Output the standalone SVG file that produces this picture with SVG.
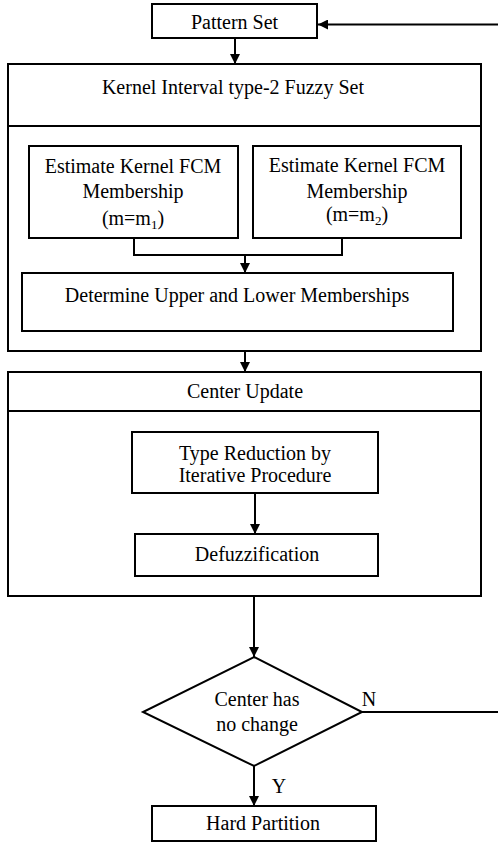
<svg xmlns="http://www.w3.org/2000/svg" width="498" height="844" viewBox="0 0 498 844">
<style>
.box{fill:#fff;stroke:#000;stroke-width:2}
.ln{fill:none;stroke:#000;stroke-width:2}
text{font-family:'Liberation Serif','Times New Roman',Times,'DejaVu Serif',serif;font-size:20px;fill:#000;text-anchor:middle}
.sub{font-size:13px}
</style>
<defs>
<marker id="ah" viewBox="0 0 10 10" refX="10" refY="5" markerWidth="10" markerHeight="10" markerUnits="userSpaceOnUse" orient="auto">
<path d="M0,0 L10,5 L0,10 Z" fill="#000"/>
</marker>
</defs>
<rect width="498" height="844" fill="#fff"/>
<g id="pattern-set">
<rect class="box" x="152" y="4" width="165" height="34"/>
<text x="234.5" y="29" font-family="Liberation Serif, serif">Pattern Set</text>
</g>
<g id="kernel-it2fs">
<rect class="box" x="8" y="64" width="473" height="287"/>
<line class="ln" x1="8" y1="126" x2="481" y2="126"/>
<text x="233" y="94">Kernel Interval type-2 Fuzzy Set</text>
</g>
<g id="estimate-m1">
<rect class="box" x="29" y="146" width="209" height="92"/>
<text x="133" y="173">Estimate Kernel FCM</text>
<text x="133" y="198">Membership</text>
<text x="133" y="225">(m=m<tspan class="sub" dy="4">1</tspan><tspan dy="-4">)</tspan></text>
</g>
<g id="estimate-m2">
<rect class="box" x="253" y="146" width="208" height="92"/>
<text x="357" y="172">Estimate Kernel FCM</text>
<text x="357" y="198">Membership</text>
<text x="357" y="221">(m=m<tspan class="sub" dy="4">2</tspan><tspan dy="-4">)</tspan></text>
</g>
<g id="determine">
<rect class="box" x="22" y="273" width="431" height="58"/>
<text x="237" y="302">Determine Upper and Lower Memberships</text>
</g>
<g id="center-update">
<rect class="box" x="8" y="372" width="473" height="224"/>
<line class="ln" x1="8" y1="411" x2="481" y2="411"/>
<text x="245" y="398">Center Update</text>
</g>
<g id="type-reduction">
<rect class="box" x="132" y="432" width="246" height="61"/>
<text x="255" y="460">Type Reduction by</text>
<text x="255" y="482">Iterative Procedure</text>
</g>
<g id="defuzzification">
<rect class="box" x="135" y="534" width="243" height="42"/>
<text x="257" y="561">Defuzzification</text>
</g>
<g id="decision">
<polygon class="box" points="254,657 362,712 254,766 143,712"/>
<text x="257" y="706">Center has</text>
<text x="257" y="731">no change</text>
</g>
<g id="hard-partition">
<rect class="box" x="152" y="806" width="224" height="35"/>
<text x="263" y="830">Hard Partition</text>
</g>
<g id="connectors">
<line class="ln" x1="498" y1="24.5" x2="318" y2="24.5" marker-end="url(#ah)"/>
<line class="ln" x1="235" y1="38" x2="235" y2="64" marker-end="url(#ah)"/>
<polyline class="ln" points="134,238 134,255 342,255 342,238"/>
<line class="ln" x1="245" y1="255" x2="245" y2="273" marker-end="url(#ah)"/>
<line class="ln" x1="245" y1="351" x2="245" y2="372" marker-end="url(#ah)"/>
<line class="ln" x1="255" y1="493" x2="255" y2="534" marker-end="url(#ah)"/>
<line class="ln" x1="254" y1="596" x2="254" y2="657" marker-end="url(#ah)"/>
<line class="ln" x1="254" y1="766" x2="254" y2="806" marker-end="url(#ah)"/>
<line class="ln" x1="362" y1="712" x2="498" y2="712"/>
<text x="369" y="706">N</text>
<text x="279" y="793">Y</text>
</g>
</svg>
